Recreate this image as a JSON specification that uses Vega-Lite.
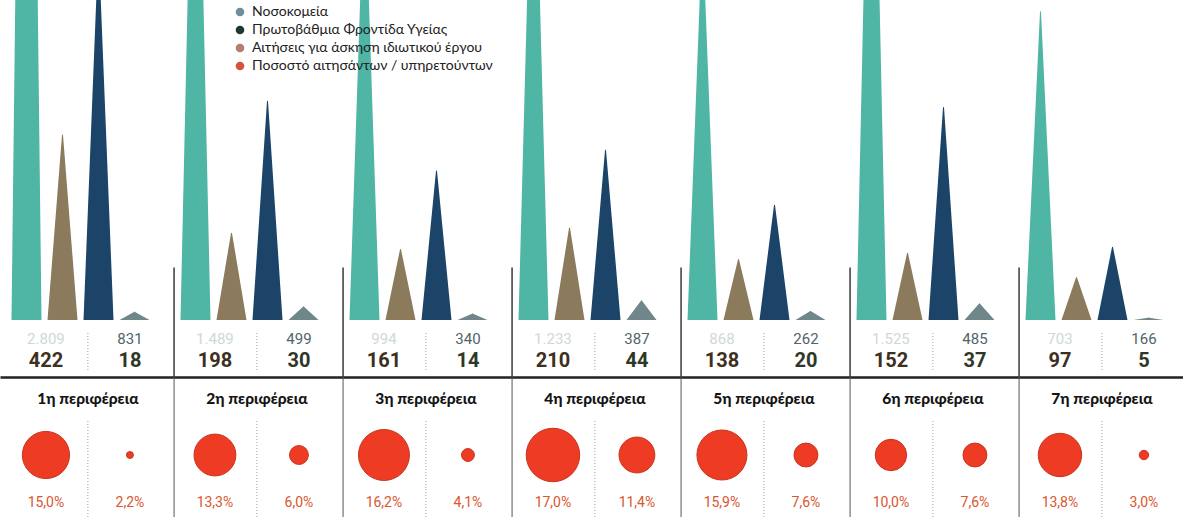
{
  "$schema": "https://vega.github.io/schema/vega-lite/v6.json",
  "background": "white",
  "padding": 0,
  "spacing": 0,
  "bounds": "flush",
  "config": {
    "view": {"stroke": null},
    "font": "Roboto",
    "locale": {"number": {"decimal": ",", "thousands": ".", "grouping": [3], "currency": ["", " €"]}}
  },
  "resolve": {"scale": {"x": "independent", "xOffset": "independent", "y": "independent", "color": "independent", "size": "independent", "fill": "independent"}},
  "datasets": {
    "counts": [
      {"region": "1η περιφέρεια", "sector": "Νοσοκομεία", "measure": "Υπηρετούντες", "series": "Νοσοκομεία · Υπηρετούντες", "count": 2809},
      {"region": "1η περιφέρεια", "sector": "Νοσοκομεία", "measure": "Αιτήσεις", "series": "Νοσοκομεία · Αιτήσεις", "count": 422},
      {"region": "1η περιφέρεια", "sector": "Πρωτοβάθμια Φροντίδα Υγείας", "measure": "Υπηρετούντες", "series": "Πρωτοβάθμια · Υπηρετούντες", "count": 831},
      {"region": "1η περιφέρεια", "sector": "Πρωτοβάθμια Φροντίδα Υγείας", "measure": "Αιτήσεις", "series": "Πρωτοβάθμια · Αιτήσεις", "count": 18},
      {"region": "2η περιφέρεια", "sector": "Νοσοκομεία", "measure": "Υπηρετούντες", "series": "Νοσοκομεία · Υπηρετούντες", "count": 1489},
      {"region": "2η περιφέρεια", "sector": "Νοσοκομεία", "measure": "Αιτήσεις", "series": "Νοσοκομεία · Αιτήσεις", "count": 198},
      {"region": "2η περιφέρεια", "sector": "Πρωτοβάθμια Φροντίδα Υγείας", "measure": "Υπηρετούντες", "series": "Πρωτοβάθμια · Υπηρετούντες", "count": 499},
      {"region": "2η περιφέρεια", "sector": "Πρωτοβάθμια Φροντίδα Υγείας", "measure": "Αιτήσεις", "series": "Πρωτοβάθμια · Αιτήσεις", "count": 30},
      {"region": "3η περιφέρεια", "sector": "Νοσοκομεία", "measure": "Υπηρετούντες", "series": "Νοσοκομεία · Υπηρετούντες", "count": 994},
      {"region": "3η περιφέρεια", "sector": "Νοσοκομεία", "measure": "Αιτήσεις", "series": "Νοσοκομεία · Αιτήσεις", "count": 161},
      {"region": "3η περιφέρεια", "sector": "Πρωτοβάθμια Φροντίδα Υγείας", "measure": "Υπηρετούντες", "series": "Πρωτοβάθμια · Υπηρετούντες", "count": 340},
      {"region": "3η περιφέρεια", "sector": "Πρωτοβάθμια Φροντίδα Υγείας", "measure": "Αιτήσεις", "series": "Πρωτοβάθμια · Αιτήσεις", "count": 14},
      {"region": "4η περιφέρεια", "sector": "Νοσοκομεία", "measure": "Υπηρετούντες", "series": "Νοσοκομεία · Υπηρετούντες", "count": 1233},
      {"region": "4η περιφέρεια", "sector": "Νοσοκομεία", "measure": "Αιτήσεις", "series": "Νοσοκομεία · Αιτήσεις", "count": 210},
      {"region": "4η περιφέρεια", "sector": "Πρωτοβάθμια Φροντίδα Υγείας", "measure": "Υπηρετούντες", "series": "Πρωτοβάθμια · Υπηρετούντες", "count": 387},
      {"region": "4η περιφέρεια", "sector": "Πρωτοβάθμια Φροντίδα Υγείας", "measure": "Αιτήσεις", "series": "Πρωτοβάθμια · Αιτήσεις", "count": 44},
      {"region": "5η περιφέρεια", "sector": "Νοσοκομεία", "measure": "Υπηρετούντες", "series": "Νοσοκομεία · Υπηρετούντες", "count": 868},
      {"region": "5η περιφέρεια", "sector": "Νοσοκομεία", "measure": "Αιτήσεις", "series": "Νοσοκομεία · Αιτήσεις", "count": 138},
      {"region": "5η περιφέρεια", "sector": "Πρωτοβάθμια Φροντίδα Υγείας", "measure": "Υπηρετούντες", "series": "Πρωτοβάθμια · Υπηρετούντες", "count": 262},
      {"region": "5η περιφέρεια", "sector": "Πρωτοβάθμια Φροντίδα Υγείας", "measure": "Αιτήσεις", "series": "Πρωτοβάθμια · Αιτήσεις", "count": 20},
      {"region": "6η περιφέρεια", "sector": "Νοσοκομεία", "measure": "Υπηρετούντες", "series": "Νοσοκομεία · Υπηρετούντες", "count": 1525},
      {"region": "6η περιφέρεια", "sector": "Νοσοκομεία", "measure": "Αιτήσεις", "series": "Νοσοκομεία · Αιτήσεις", "count": 152},
      {"region": "6η περιφέρεια", "sector": "Πρωτοβάθμια Φροντίδα Υγείας", "measure": "Υπηρετούντες", "series": "Πρωτοβάθμια · Υπηρετούντες", "count": 485},
      {"region": "6η περιφέρεια", "sector": "Πρωτοβάθμια Φροντίδα Υγείας", "measure": "Αιτήσεις", "series": "Πρωτοβάθμια · Αιτήσεις", "count": 37},
      {"region": "7η περιφέρεια", "sector": "Νοσοκομεία", "measure": "Υπηρετούντες", "series": "Νοσοκομεία · Υπηρετούντες", "count": 703},
      {"region": "7η περιφέρεια", "sector": "Νοσοκομεία", "measure": "Αιτήσεις", "series": "Νοσοκομεία · Αιτήσεις", "count": 97},
      {"region": "7η περιφέρεια", "sector": "Πρωτοβάθμια Φροντίδα Υγείας", "measure": "Υπηρετούντες", "series": "Πρωτοβάθμια · Υπηρετούντες", "count": 166},
      {"region": "7η περιφέρεια", "sector": "Πρωτοβάθμια Φροντίδα Υγείας", "measure": "Αιτήσεις", "series": "Πρωτοβάθμια · Αιτήσεις", "count": 5}
    ],
    "pcts": [
      {"region": "1η περιφέρεια", "sector": "Νοσοκομεία", "pct": 0.150},
      {"region": "1η περιφέρεια", "sector": "Πρωτοβάθμια Φροντίδα Υγείας", "pct": 0.022},
      {"region": "2η περιφέρεια", "sector": "Νοσοκομεία", "pct": 0.133},
      {"region": "2η περιφέρεια", "sector": "Πρωτοβάθμια Φροντίδα Υγείας", "pct": 0.060},
      {"region": "3η περιφέρεια", "sector": "Νοσοκομεία", "pct": 0.162},
      {"region": "3η περιφέρεια", "sector": "Πρωτοβάθμια Φροντίδα Υγείας", "pct": 0.041},
      {"region": "4η περιφέρεια", "sector": "Νοσοκομεία", "pct": 0.170},
      {"region": "4η περιφέρεια", "sector": "Πρωτοβάθμια Φροντίδα Υγείας", "pct": 0.114},
      {"region": "5η περιφέρεια", "sector": "Νοσοκομεία", "pct": 0.159},
      {"region": "5η περιφέρεια", "sector": "Πρωτοβάθμια Φροντίδα Υγείας", "pct": 0.076},
      {"region": "6η περιφέρεια", "sector": "Νοσοκομεία", "pct": 0.100},
      {"region": "6η περιφέρεια", "sector": "Πρωτοβάθμια Φροντίδα Υγείας", "pct": 0.076},
      {"region": "7η περιφέρεια", "sector": "Νοσοκομεία", "pct": 0.138},
      {"region": "7η περιφέρεια", "sector": "Πρωτοβάθμια Φροντίδα Υγείας", "pct": 0.030}
    ]
  },
  "vconcat": [
    {
      "width": 1183,
      "height": 320,
      "layer": [
        {
          "data": {"name": "counts"},
          "transform": [
            {"fold": ["count"], "as": ["end", "v"]},
            {"impute": "v", "key": "end", "keyvals": ["base", "count"], "groupby": ["region", "series"], "value": 0}
          ],
          "mark": {"type": "trail", "clip": true},
          "encoding": {
            "x": {"field": "region", "type": "nominal", "sort": ["1η περιφέρεια", "2η περιφέρεια", "3η περιφέρεια", "4η περιφέρεια", "5η περιφέρεια", "6η περιφέρεια", "7η περιφέρεια"], "axis": null, "scale": {"type": "band", "paddingInner": 0, "paddingOuter": 0}},
            "xOffset": {"field": "series", "type": "nominal", "sort": ["Νοσοκομεία · Υπηρετούντες", "Νοσοκομεία · Αιτήσεις", "Πρωτοβάθμια · Υπηρετούντες", "Πρωτοβάθμια · Αιτήσεις"], "scale": {"type": "band", "paddingInner": 0, "paddingOuter": 0.347, "align": 0.34}},
            "y": {"field": "v", "type": "quantitative", "axis": null, "scale": {"domain": [0, 730], "nice": false, "zero": true}},
            "size": {"field": "end", "type": "ordinal", "scale": {"domain": ["base", "count"], "range": [30, 0]}, "legend": null},
            "color": {"field": "series", "type": "nominal", "scale": {"domain": ["Νοσοκομεία · Υπηρετούντες", "Νοσοκομεία · Αιτήσεις", "Πρωτοβάθμια · Υπηρετούντες", "Πρωτοβάθμια · Αιτήσεις"], "range": ["#4fb5a4", "#8b7a5c", "#1b4468", "#6f868a"]}, "legend": null},
            "detail": {"field": "region", "type": "nominal"}
          }
        },
        {
          "data": {"name": "pcts"},
          "transform": [{"filter": "datum.sector === 'Νοσοκομεία' && datum.region !== '1η περιφέρεια'"}],
          "mark": {"type": "rule", "color": "#3a3a3a", "strokeWidth": 1.5},
          "encoding": {
            "x": {"field": "region", "type": "nominal", "sort": ["1η περιφέρεια", "2η περιφέρεια", "3η περιφέρεια", "4η περιφέρεια", "5η περιφέρεια", "6η περιφέρεια", "7η περιφέρεια"], "bandPosition": 0.03},
            "y": {"datum": 0},
            "y2": {"datum": 120}
          }
        },
        {
          "data": {"values": [{"lg": "Νοσοκομεία"}, {"lg": "Πρωτοβάθμια Φροντίδα Υγείας"}, {"lg": "Αιτήσεις για άσκηση ιδιωτικού έργου"}, {"lg": "Ποσοστό αιτησάντων / υπηρετούντων"}]},
          "mark": {"type": "point", "filled": true, "opacity": 0},
          "encoding": {
            "fill": {
              "field": "lg", "type": "nominal",
              "scale": {"domain": ["Νοσοκομεία", "Πρωτοβάθμια Φροντίδα Υγείας", "Αιτήσεις για άσκηση ιδιωτικού έργου", "Ποσοστό αιτησάντων / υπηρετούντων"], "range": ["#6e8f98", "#1d3a30", "#b27f70", "#d4533b"]},
              "legend": {"orient": "none", "legendX": 233, "legendY": 5, "title": null, "symbolType": "circle", "symbolSize": 75, "symbolOpacity": 1, "symbolStrokeWidth": 0, "labelFontSize": 14, "labelFont": "Lato", "labelColor": "#222", "labelLimit": 0, "rowPadding": 4, "labelOffset": 5}
            }
          }
        }
      ]
    },
    {
      "width": 1183,
      "height": 57,
      "layer": [
        {
          "data": {"name": "counts"},
          "transform": [{"filter": "datum.measure === 'Υπηρετούντες'"}],
          "mark": {"type": "text", "fontSize": 15, "font": "Roboto"},
          "encoding": {
            "x": {"field": "region", "type": "nominal", "sort": ["1η περιφέρεια", "2η περιφέρεια", "3η περιφέρεια", "4η περιφέρεια", "5η περιφέρεια", "6η περιφέρεια", "7η περιφέρεια"], "scale": {"type": "band", "paddingInner": 0, "paddingOuter": 0}, "axis": {"title": null, "labels": false, "ticks": false, "tickSize": 0, "labelPadding": 0, "minExtent": 0, "maxExtent": 0, "grid": false, "domain": true, "domainColor": "#222", "domainWidth": 2.5}},
            "xOffset": {"field": "sector", "type": "nominal", "sort": ["Νοσοκομεία", "Πρωτοβάθμια Φροντίδα Υγείας"], "scale": {"type": "band", "paddingInner": 0.5, "paddingOuter": 0.256, "align": 0.58}},
            "y": {"field": "measure", "type": "nominal", "sort": ["Υπηρετούντες", "Αιτήσεις"], "axis": null, "scale": {"type": "point", "padding": 0.795, "align": 0.543}},
            "text": {"field": "count", "type": "quantitative", "format": ",d"},
            "color": {"field": "series", "type": "nominal", "scale": {"domain": ["Νοσοκομεία · Υπηρετούντες", "Νοσοκομεία · Αιτήσεις", "Πρωτοβάθμια · Υπηρετούντες", "Πρωτοβάθμια · Αιτήσεις"], "range": ["#cfd8d8", "#3e2f1e", "#50646a", "#2f3728"]}, "legend": null}
          }
        },
        {
          "data": {"name": "counts"},
          "transform": [{"filter": "datum.measure === 'Αιτήσεις'"}],
          "mark": {"type": "text", "fontSize": 20, "fontWeight": "bold", "font": "Roboto"},
          "encoding": {
            "x": {"field": "region", "type": "nominal", "sort": ["1η περιφέρεια", "2η περιφέρεια", "3η περιφέρεια", "4η περιφέρεια", "5η περιφέρεια", "6η περιφέρεια", "7η περιφέρεια"]},
            "xOffset": {"field": "sector", "type": "nominal", "sort": ["Νοσοκομεία", "Πρωτοβάθμια Φροντίδα Υγείας"]},
            "y": {"field": "measure", "type": "nominal", "sort": ["Υπηρετούντες", "Αιτήσεις"]},
            "text": {"field": "count", "type": "quantitative", "format": ",d"},
            "color": {"field": "series", "type": "nominal", "legend": null}
          }
        },
        {
          "data": {"name": "pcts"},
          "transform": [{"filter": "datum.sector === 'Νοσοκομεία'"}],
          "mark": {"type": "rule", "color": "#9aa0a0", "strokeWidth": 1, "strokeDash": [1, 2], "yOffset": -6, "y2Offset": 9},
          "encoding": {
            "x": {"field": "region", "type": "nominal", "sort": ["1η περιφέρεια", "2η περιφέρεια", "3η περιφέρεια", "4η περιφέρεια", "5η περιφέρεια", "6η περιφέρεια", "7η περιφέρεια"], "bandPosition": 0.52},
            "y": {"datum": "Υπηρετούντες", "type": "nominal"},
            "y2": {"datum": "Αιτήσεις"}
          }
        },
        {
          "data": {"name": "pcts"},
          "transform": [{"filter": "datum.sector === 'Νοσοκομεία' && datum.region !== '1η περιφέρεια'"}],
          "mark": {"type": "rule", "color": "#3a3a3a", "strokeWidth": 1.5},
          "encoding": {
            "x": {"field": "region", "type": "nominal", "sort": ["1η περιφέρεια", "2η περιφέρεια", "3η περιφέρεια", "4η περιφέρεια", "5η περιφέρεια", "6η περιφέρεια", "7η περιφέρεια"], "bandPosition": 0.03}
          }
        }
      ]
    },
    {
      "width": 1183,
      "height": 44,
      "data": {"name": "pcts"},
      "transform": [{"filter": "datum.sector === 'Νοσοκομεία'"}],
      "layer": [
        {
          "mark": {"type": "text", "fontSize": 15.5, "fontWeight": 900, "font": "Lato", "color": "#141414"},
          "encoding": {
            "x": {"field": "region", "type": "nominal", "sort": ["1η περιφέρεια", "2η περιφέρεια", "3η περιφέρεια", "4η περιφέρεια", "5η περιφέρεια", "6η περιφέρεια", "7η περιφέρεια"], "bandPosition": 0.52, "axis": null, "scale": {"type": "band", "paddingInner": 0, "paddingOuter": 0}},
            "text": {"field": "region"}
          }
        },
        {
          "transform": [{"filter": "datum.region !== '1η περιφέρεια'"}],
          "mark": {"type": "rule", "color": "#555", "strokeWidth": 1},
          "encoding": {
            "x": {"field": "region", "type": "nominal", "sort": ["1η περιφέρεια", "2η περιφέρεια", "3η περιφέρεια", "4η περιφέρεια", "5η περιφέρεια", "6η περιφέρεια", "7η περιφέρεια"], "bandPosition": 0.03}
          }
        }
      ]
    },
    {
      "width": 1183,
      "height": 68,
      "data": {"name": "pcts"},
      "layer": [
        {
          "mark": {"type": "circle", "color": "#ee3b23", "opacity": 1, "stroke": "#c93420", "strokeWidth": 1},
          "encoding": {
            "x": {"field": "region", "type": "nominal", "sort": ["1η περιφέρεια", "2η περιφέρεια", "3η περιφέρεια", "4η περιφέρεια", "5η περιφέρεια", "6η περιφέρεια", "7η περιφέρεια"], "axis": null, "scale": {"type": "band", "paddingInner": 0, "paddingOuter": 0}},
            "xOffset": {"field": "sector", "type": "nominal", "sort": ["Νοσοκομεία", "Πρωτοβάθμια Φροντίδα Υγείας"], "scale": {"type": "band", "paddingInner": 0.5, "paddingOuter": 0.256, "align": 0.58}},
            "size": {"field": "pct", "type": "quantitative", "scale": {"type": "pow", "exponent": 2, "domain": [0, 0.17], "range": [0, 2861]}, "legend": null}
          }
        },
        {
          "transform": [{"filter": "datum.sector === 'Νοσοκομεία'"}],
          "mark": {"type": "rule", "color": "#9aa0a0", "strokeWidth": 1, "strokeDash": [1, 2]},
          "encoding": {
            "x": {"field": "region", "type": "nominal", "sort": ["1η περιφέρεια", "2η περιφέρεια", "3η περιφέρεια", "4η περιφέρεια", "5η περιφέρεια", "6η περιφέρεια", "7η περιφέρεια"], "bandPosition": 0.52}
          }
        },
        {
          "transform": [{"filter": "datum.sector === 'Νοσοκομεία' && datum.region !== '1η περιφέρεια'"}],
          "mark": {"type": "rule", "color": "#555", "strokeWidth": 1},
          "encoding": {
            "x": {"field": "region", "type": "nominal", "sort": ["1η περιφέρεια", "2η περιφέρεια", "3η περιφέρεια", "4η περιφέρεια", "5η περιφέρεια", "6η περιφέρεια", "7η περιφέρεια"], "bandPosition": 0.03}
          }
        }
      ]
    },
    {
      "width": 1183,
      "height": 28,
      "data": {"name": "pcts"},
      "layer": [
        {
          "mark": {"type": "text", "fontSize": 14, "font": "Roboto", "color": "#d9562e"},
          "encoding": {
            "x": {"field": "region", "type": "nominal", "sort": ["1η περιφέρεια", "2η περιφέρεια", "3η περιφέρεια", "4η περιφέρεια", "5η περιφέρεια", "6η περιφέρεια", "7η περιφέρεια"], "axis": null, "scale": {"type": "band", "paddingInner": 0, "paddingOuter": 0}},
            "xOffset": {"field": "sector", "type": "nominal", "sort": ["Νοσοκομεία", "Πρωτοβάθμια Φροντίδα Υγείας"], "scale": {"type": "band", "paddingInner": 0.5, "paddingOuter": 0.256, "align": 0.58}},
            "text": {"field": "pct", "type": "quantitative", "format": ".1%"}
          }
        },
        {
          "transform": [{"filter": "datum.sector === 'Νοσοκομεία'"}],
          "mark": {"type": "rule", "color": "#9aa0a0", "strokeWidth": 1, "strokeDash": [1, 2]},
          "encoding": {
            "x": {"field": "region", "type": "nominal", "sort": ["1η περιφέρεια", "2η περιφέρεια", "3η περιφέρεια", "4η περιφέρεια", "5η περιφέρεια", "6η περιφέρεια", "7η περιφέρεια"], "bandPosition": 0.52}
          }
        },
        {
          "transform": [{"filter": "datum.sector === 'Νοσοκομεία' && datum.region !== '1η περιφέρεια'"}],
          "mark": {"type": "rule", "color": "#555", "strokeWidth": 1},
          "encoding": {
            "x": {"field": "region", "type": "nominal", "sort": ["1η περιφέρεια", "2η περιφέρεια", "3η περιφέρεια", "4η περιφέρεια", "5η περιφέρεια", "6η περιφέρεια", "7η περιφέρεια"], "bandPosition": 0.03}
          }
        }
      ]
    }
  ]
}
